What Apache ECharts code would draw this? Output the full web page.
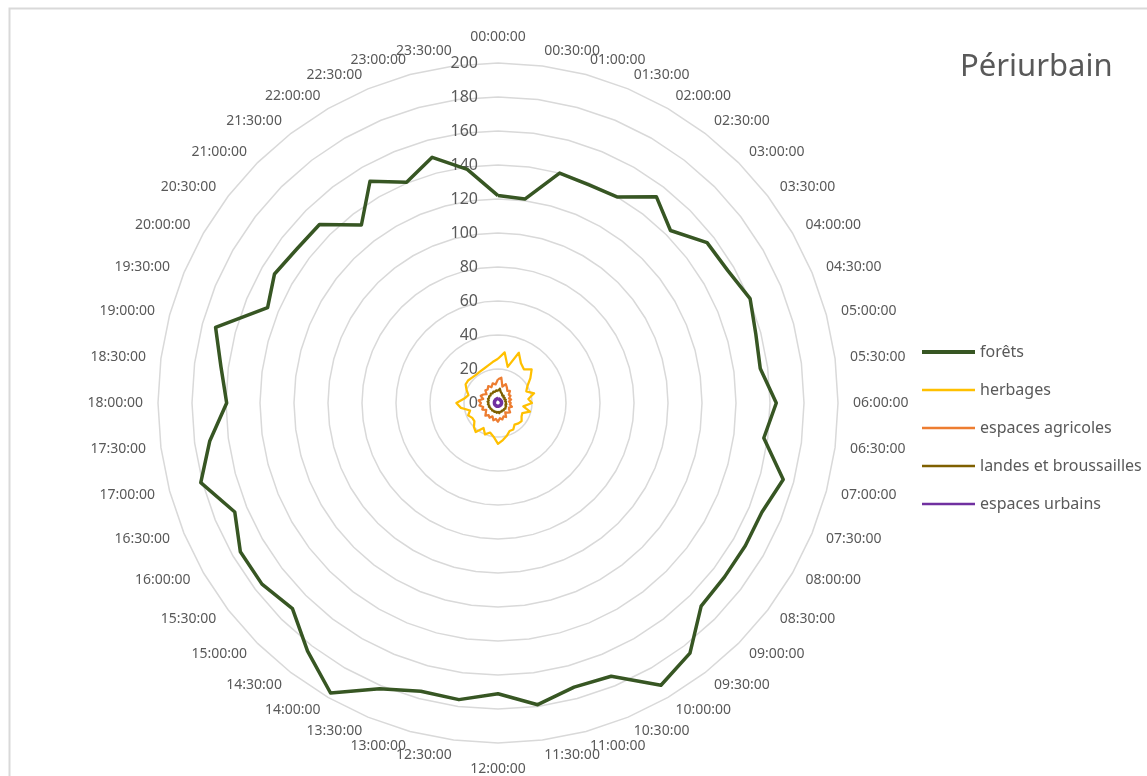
<!DOCTYPE html>
<html>
<head>
<meta charset="utf-8">
<script src="https://cdn.jsdelivr.net/npm/echarts@6/dist/echarts.min.js"></script>
<style>
  html, body { margin: 0; padding: 0; background: #ffffff; }
  #chart { width: 1147px; height: 776px; }
</style>
</head>
<body>
<div id="chart"></div>
<script>
// ---- Data ----
const times = [
  "00:00:00","00:30:00","01:00:00","01:30:00","02:00:00","02:30:00","03:00:00","03:30:00",
  "04:00:00","04:30:00","05:00:00","05:30:00","06:00:00","06:30:00","07:00:00","07:30:00",
  "08:00:00","08:30:00","09:00:00","09:30:00","10:00:00","10:30:00","11:00:00","11:30:00",
  "12:00:00","12:30:00","13:00:00","13:30:00","14:00:00","14:30:00","15:00:00","15:30:00",
  "16:00:00","16:30:00","17:00:00","17:30:00","18:00:00","18:30:00","19:00:00","19:30:00",
  "20:00:00","20:30:00","21:00:00","21:30:00","22:00:00","22:30:00","23:00:00","23:30:00"
];
const seriesNames = ["forêts", "herbages", "espaces agricoles", "landes et broussailles", "espaces urbains"];
const forets = [
  122, 121, 140, 139, 140, 153, 143.5, 155, 156, 160.5, 157, 155.6,
  163.7, 157.7, 173.7, 168, 168, 168, 169, 185.5, 191.7, 174, 173, 179,
  171, 176, 175.5, 182, 197, 184, 171, 175, 175, 167.6, 181, 171,
  159.6, 164.4, 172, 146.7, 151.8, 149, 148.5, 132, 150.6, 140.5, 149.6, 138.6
];
const herbages = [
  26, 30, 22, 32, 27, 25, 28, 24, 20, 18, 22, 18,
  20, 15, 19.5, 15.5, 16, 17.5, 17, 16, 18, 17.8, 20, 22,
  24, 20, 18, 20, 17, 21.5, 20, 17.5, 17.5, 19, 17, 22,
  24.5, 20, 18, 20, 22, 22, 21.3, 21, 21.3, 21.8, 22.8, 24.3
];
const agricoles = [
  14, 15, 10, 12, 10.5, 9, 10, 8, 8.5, 7, 8, 6.5,
  7.5, 7, 8.5, 7, 7.5, 9, 8, 7, 9.5, 8.5, 10, 9,
  11, 9.5, 10.5, 8.5, 10, 9, 10.5, 9, 8, 10, 9, 11,
  10, 11.5, 9, 11, 10, 8.5, 10.5, 10, 11.5, 10, 12, 11
];
const landes = [
  7, 8.5, 6.5, 6, 5, 5.5, 4.5, 5, 4.3, 5, 4.3, 4.8,
  4.5, 5, 4.5, 5.2, 5, 5.5, 5, 5.5, 5, 5.5, 5.2, 6,
  5.2, 5.8, 5.2, 5.6, 5.2, 5.6, 5.2, 5.6, 5.3, 5.8, 5.3, 6,
  5.5, 6.2, 5.6, 6.4, 6, 6.6, 6.2, 7, 6.5, 7.2, 6.8, 7.5
];
const urbains = [
  2.6, 2.5, 2.4, 2.3, 2.2, 2.2, 2.1, 2.2, 2.1, 2.2, 2.1, 2.1,
  2.1, 2, 2, 2, 2, 2, 1.9, 1.9, 1.9, 1.9, 1.9, 1.9,
  1.9, 1.9, 1.9, 2, 2, 2, 2, 2, 2.1, 2.1, 2.1, 2.1,
  2.1, 2.1, 2.2, 2.2, 2.2, 2.3, 2.3, 2.4, 2.4, 2.5, 2.5, 2.6
];
const axisMax = 200;
const axisStep = 20;

// ---- Build options ----
const colors = ["#375623", "#FFC000", "#ED7D31", "#7F6000", "#7030A0"];
const widths = [3.5, 2.25, 2.25, 2.25, 3.5];
const allValues = [forets, herbages, agricoles, landes, urbains];

// ECharts lays indicators counter-clockwise; reorder so the time runs clockwise
const order = [0];
for (let i = times.length - 1; i >= 1; i--) order.push(i);

const indicator = order.map(function (idx, k) {
  const ind = { name: times[idx], min: 0, max: axisMax };
  if (idx === 0 || idx === times.length / 2) ind.nameGap = 19;
  if (k === 0) {
    ind.axisLabel = {
      show: true, color: "#595959", fontSize: 16,
      fontFamily: "Noto Sans", margin: 20, showMinLabel: true
    };
  }
  return ind;
});

const series = seriesNames.map(function (name, s) {
  return {
    type: "radar",
    name: name,
    symbol: "none",
    silent: true,
    z: 2 + s,
    lineStyle: { color: colors[s], width: widths[s], join: "round" },
    itemStyle: { color: colors[s] },
    data: [{ name: name, value: order.map(function (idx) { return allValues[s][idx]; }) }]
  };
});

const chart = echarts.init(document.getElementById("chart"), null, { renderer: "canvas" });
chart.setOption({
  backgroundColor: "#ffffff",
  animation: false,
  textStyle: { fontFamily: "Noto Sans" },
  graphic: [
    {
      type: "rect", silent: true,
      shape: { x: 9.5, y: 8.5, width: 1200, height: 800 },
      style: { fill: "none", stroke: "#D9D9D9", lineWidth: 2 }
    },
    {
      type: "text", left: 960, top: 52,
      style: { text: "Périurbain", fill: "#595959", fontSize: 31, fontFamily: "Noto Sans" }
    }
  ],
  legend: {
    orient: "vertical",
    left: 917,
    top: 338,
    padding: 5,
    itemWidth: 53,
    itemHeight: 18,
    itemGap: 20,
    selectedMode: false,
    textStyle: { color: "#595959", fontSize: 16, fontFamily: "Noto Sans", lineHeight: 18 },
    data: seriesNames.map(function (name, s) {
      const h = s === 0 ? 4 : 2.4;
      return { name: name, icon: "path://M0,0h53v" + h + "h-53z" };
    })
  },
  radar: {
    center: [498, 403],
    radius: 340,
    startAngle: 90,
    shape: "polygon",
    splitNumber: axisMax / axisStep,
    nameGap: 15,
    axisName: { color: "#595959", fontSize: 14, fontFamily: "Noto Sans" },
    axisLine: { show: false },
    axisTick: { show: false },
    axisLabel: { show: false },
    splitArea: { show: false },
    splitLine: { lineStyle: { color: "#D9D9D9", width: 1.5 } },
    indicator: indicator
  },
  series: series
});
</script>
</body>
</html>
